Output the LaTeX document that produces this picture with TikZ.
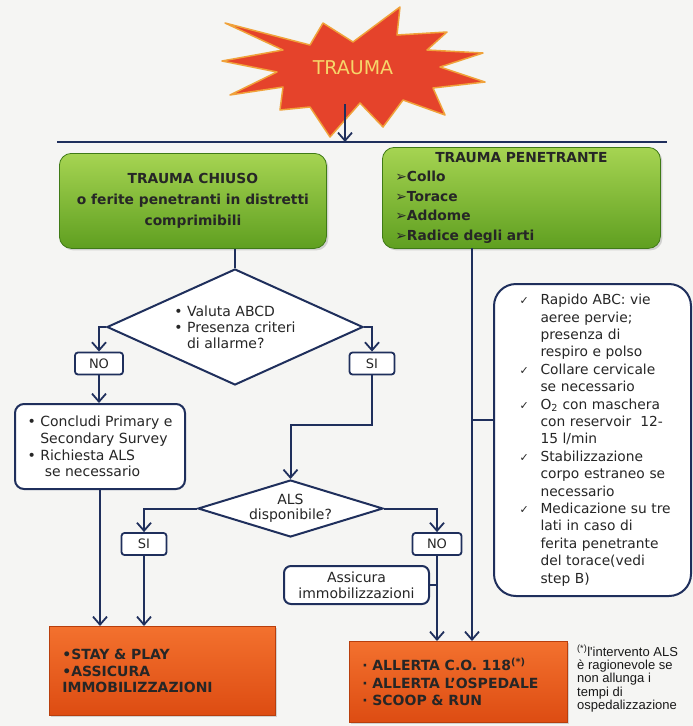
\documentclass[tikz,border=0pt]{standalone}
\usepackage{fontspec}
\setmainfont{DejaVu Sans}
\newfontfamily\notefont{Liberation Sans}
\usetikzlibrary{arrows.meta,shapes.geometric,shadows}
\definecolor{tbg}{HTML}{F5F5F3}
\definecolor{tnavy}{HTML}{1F2F5C}
\definecolor{tgreenA}{HTML}{A6D452}
\definecolor{tgreenB}{HTML}{5F9F20}
\definecolor{tgreenD}{HTML}{3F7A16}
\definecolor{torangeA}{HTML}{F3712E}
\definecolor{torangeB}{HTML}{DD4C12}
\definecolor{torangeD}{HTML}{B83E0C}
\definecolor{tred}{HTML}{E5432B}
\definecolor{tredD}{HTML}{F0A23A}
\definecolor{tyellow}{HTML}{F6D66A}
\newcommand{\ck}{\makebox[28pt][l]{\hspace{7pt}{\fontsize{11}{11}\selectfont\char"2713}}}
\newcommand{\ind}{\hspace*{28pt}}
\newcommand{\arrb}{{\mdseries\char"27A2}}

\begin{document}
\begin{tikzpicture}[x=1pt,y=-1pt,
  font=\fontsize{14}{16.5}\selectfont,
  gb/.style={draw=tgreenD,thick,top color=tgreenA,bottom color=tgreenB,rounded corners=12pt,
             anchor=north west,inner sep=0pt,align=center,text=black!85,
             drop shadow={opacity=0.3,shadow xshift=2pt,shadow yshift=-2pt},
             font=\fontsize{13.8}{21}\selectfont\bfseries},
  ob/.style={draw=torangeD,thick,top color=torangeA,bottom color=torangeB,
             anchor=north west,inner sep=0pt,align=left,text=black!85,
             drop shadow={opacity=0.3,shadow xshift=2pt,shadow yshift=-2pt},
             font=\fontsize{14}{16.5}\selectfont\bfseries},
  wb/.style={draw=tnavy,line width=2pt,fill=white,rounded corners=9pt,anchor=north west,
             inner sep=0pt,text=black!85},
  tag/.style={draw=tnavy,line width=1.8pt,fill=white,rounded corners=3pt,minimum height=22pt,
              inner sep=0pt,text=black!85,font=\fontsize{13}{14}\selectfont},
  dm/.style={diamond,draw=tnavy,line width=2pt,fill=white,inner sep=0pt,text=black!85},
  a/.style={-{Straight Barb[length=8pt,width=14pt,line width=1.8pt]},draw=tnavy,line width=2pt},
  ln/.style={draw=tnavy,line width=2pt}]

\fill[tbg] (0,0) rectangle (693,726);
\useasboundingbox (0,0) rectangle (693,726);

% star
\draw[fill=tred,draw=tredD,line width=1.5pt,line join=round]
  (225,23) -- (310,45) -- (323,23) -- (353,42) -- (400,7) -- (397,35) -- (447,32)
  -- (427,50) -- (483,53) -- (440,67) -- (485,82) -- (433,88) -- (445,115) -- (403,100)
  -- (383,127) -- (360,103) -- (330,137) -- (310,107) -- (280,110) -- (283,87)
  -- (230,95) -- (277,72) -- (222,61) -- (283,50) -- cycle;
\node[text=tyellow,font=\fontsize{19}{22}\selectfont] (trauma) at (353,68) {TRAUMA};

\coordinate (barL) at (57,142);
\coordinate (barR) at (667,142);
\coordinate (hub) at (345,142);
\coordinate (starfoot) at (345,104);
\draw[ln] (barL) -- (barR);
\draw[a] (starfoot) -- (hub);

\node[gb,minimum width=267pt,minimum height=95pt] (chiuso) at (59,153)
  {TRAUMA CHIUSO\\o ferite penetranti in distretti\\comprimibili};
\node[gb,minimum width=278pt,minimum height=101pt,text width=252pt,align=left,
      font=\fontsize{13.8}{19.5}\selectfont\bfseries] (pen) at (382,147)
  {\makebox[252pt]{TRAUMA PENETRANTE}\\\arrb Collo\\\arrb Torace\\\arrb Addome\\\arrb Radice degli arti};

\node[dm,minimum width=256pt,minimum height=116pt,aspect=2.2,align=left,
      font=\fontsize{14}{16}\selectfont] (abcd) at (235,327)
  {• Valuta ABCD\\• Presenza criteri\\\phantom{• }di allarme?};
\node[tag,minimum width=48pt] (no1) at (99,363.5) {NO};
\node[tag,minimum width=45pt] (si1) at (372,363.5) {SI};

\node[wb,minimum width=170pt,minimum height=85pt,align=left,
      font=\fontsize{14}{16.7}\selectfont] (concl) at (14,403)
  {• Concludi Primary e\\\phantom{• }Secondary Survey\\• Richiesta ALS\\\phantom{• }\ se necessario};

\node[dm,minimum width=185pt,minimum height=57pt,aspect=3.25,align=center,
      font=\fontsize{14}{15}\selectfont] (als) at (290.5,508.5) {ALS\\disponibile?};
\node[tag,minimum width=45pt] (si2) at (144,544) {SI};
\node[tag,minimum width=49pt] (no2) at (437,544) {NO};

\node[wb,rounded corners=7pt,minimum width=145pt,minimum height=38pt,align=center,
      font=\fontsize{14}{16}\selectfont] (immob) at (283,565) {Assicura\\immobilizzazioni};

\node[wb,rounded corners=22pt,minimum width=197pt,minimum height=312pt,text width=160pt,
      align=left,font=\fontsize{13.8}{17.4}\selectfont] (abc) at (493,283)
  {\ck Rapido ABC: vie\\
   \ind aeree pervie;\\
   \ind presenza di\\
   \ind respiro e polso\\
   \ck Collare cervicale\\
   \ind se necessario\\
   \ck O\textsubscript{2} con maschera\\
   \ind con reservoir\ \ 12-\\
   \ind 15 l/min\\
   \ck Stabilizzazione\\
   \ind corpo estraneo se\\
   \ind necessario\\
   \ck Medicazione su tre\\
   \ind lati in caso di\\
   \ind ferita penetrante\\
   \ind del torace(vedi\\
   \ind step B)};

\node[ob,minimum width=226pt,minimum height=89pt,text width=200pt] (stay) at (49,626)
  {•STAY \& PLAY\\•ASSICURA\\IMMOBILIZZAZIONI};
\node[ob,minimum width=218pt,minimum height=81pt,text width=192pt,
      font=\fontsize{14}{17.5}\selectfont\bfseries] (scoop) at (349,641)
  {·\ ALLERTA C.O. 118\textsuperscript{(*)}\\·\ ALLERTA L'OSPEDALE\\·\ SCOOP \& RUN};
\node[anchor=north west,align=left,inner sep=0pt,text=black!90,
      font=\notefont\fontsize{13}{13.3}\selectfont] (note) at (577,645)
  {\textsuperscript{(*)}l'intervento ALS\\è ragionevole se\\non allunga i\\tempi di\\ospedalizzazione};

\coordinate (penfoot) at (472,248);
\coordinate (tick) at (472,420);

\draw[ln] (abcd.north |- chiuso.south) -- (abcd.north);
\draw[a] (abcd.west) -| (no1.north);
\draw[a] (no1.south) -- (no1.south |- concl.north);
\draw[a] (abcd.east) -| (si1.north);
\draw[a] (si1.south) -- ++(0,50) -| (als.north);
\draw[a] (als.west) -| (si2.north);
\draw[a] (als.east) -| (no2.north);
\draw[a] (concl.south) -- (concl.south |- stay.north);
\draw[a] (si2.south) -- (si2.south |- stay.north);
\draw[a] (no2.south) -- (no2.south |- scoop.north);
\draw[ln] (immob.east) -- (immob.east -| no2.south);
\draw[a] (penfoot) -- (penfoot |- scoop.north);
\draw[ln] (tick) -- (tick -| abc.west);
\end{tikzpicture}
\end{document}
